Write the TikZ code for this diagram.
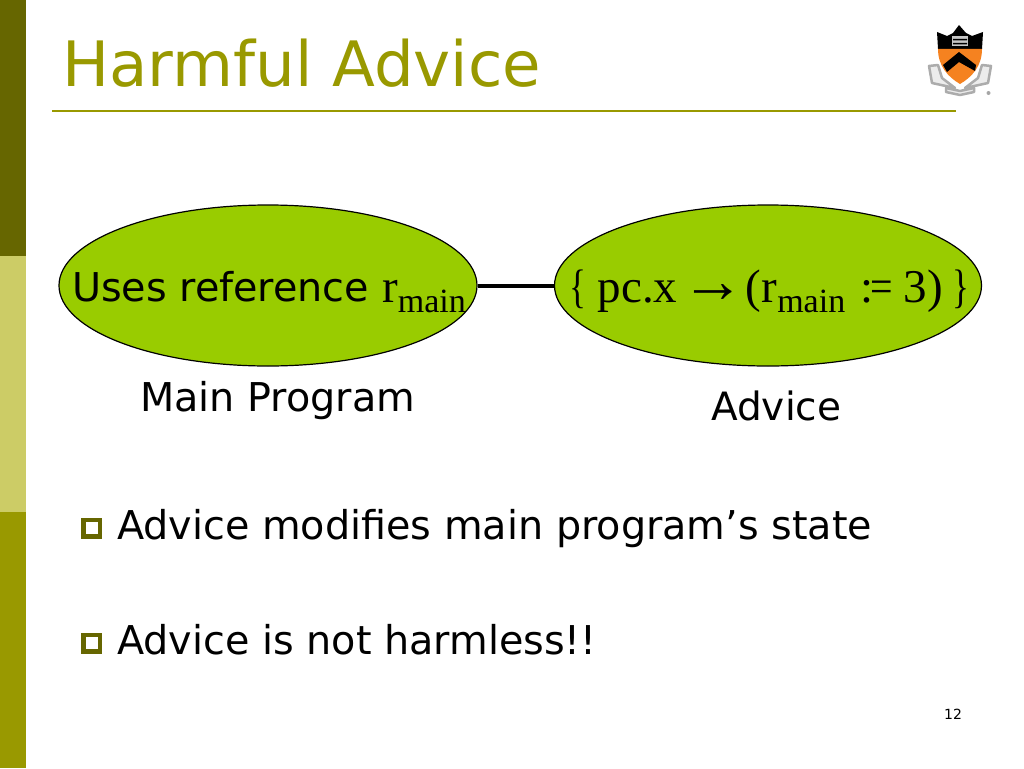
\documentclass[tikz,border=0pt]{standalone}
\usepackage{fontspec}
\setmainfont{DejaVu Sans}
\newfontfamily\serifface{Liberation Serif}
\usetikzlibrary{shapes.geometric}
\definecolor{oliveD}{HTML}{666600}
\definecolor{oliveM}{HTML}{999900}
\definecolor{oliveL}{HTML}{CCCC66}
\definecolor{limeF}{HTML}{99CC00}
\definecolor{shieldO}{HTML}{F58220}
\tikzset{
 blob/.style={ellipse,draw=black,line width=1.2pt,fill=limeF,inner sep=0pt},
 body/.style={inner sep=0pt,anchor=base west,text=black,font=\fontsize{39.7}{40}\selectfont},
 bullet/.style={draw=oliveD,line width=4.5pt,fill=white,minimum size=16.5pt,inner sep=0pt},
 ser/.style={inner sep=0pt,anchor=base west},
 scroll/.style={draw=gray!65,line width=2.5pt,fill=gray!15,line join=round}
}
\newcommand{\bigser}{\serifface\fontsize{47}{47}\selectfont}
\newcommand{\subser}[1]{\raisebox{-10pt}{\fontsize{34}{34}\selectfont #1}}
\begin{document}
\begin{tikzpicture}[x=1pt,y=-1pt]
\useasboundingbox (0,0) rectangle (1024,768);
\fill[white] (0,0) rectangle (1024,768);
\fill[oliveD] (0,0) rectangle (26,256);
\fill[oliveL] (0,256) rectangle (26,512);
\fill[oliveM] (0,512) rectangle (26,768);
\draw[oliveM,line width=2pt] (52,110.5) -- (956,110.5);
\node[inner sep=0pt,anchor=base west,text=oliveM,font=\fontsize{62.6}{63}\selectfont] (title) at (62,86) {Harmful Advice};
% logo
\draw[scroll] (929,66) -- (938,65) -- (942,78) -- (955,88) -- (932,83) -- cycle;
\draw[scroll] (991,66) -- (982,65) -- (978,78) -- (965,88) -- (988,83) -- cycle;
\draw[scroll] (946,88) -- (960,91) -- (974,88) -- (974,92) -- (960,95) -- (946,92) -- cycle;
\fill[black] (937,32) -- (947,36) -- (953,33) -- (959,25) -- (966,33) -- (972,36) -- (983,32) -- (982,49) -- (938,49) -- cycle;
\fill[shieldO] (938,49) -- (982,49) .. controls (982,66) and (972,77) .. (960,84) .. controls (948,77) and (938,66) .. (938,49) -- cycle;
\fill[black] (943,65) -- (959,52) -- (976,65) -- (975,71) -- (959,62) -- (947,72) -- cycle;
\fill[gray!45] (952,36) rectangle (968,46);
\fill[black] (953,39) rectangle (967,40.5) (953,43) rectangle (967,44.5);
\fill[gray!70] (988.5,93) circle (2);
% ovals
\node[blob,minimum width=418pt,minimum height=161pt] (main) at (268,285.5) {};
\node[blob,minimum width=427pt,minimum height=161pt] (adv) at (768,285.5) {};
\draw[line width=4pt] (main) -- (adv);
\node[body] (uses) at (72,301) {Uses reference};
\node[ser,font=\bigser] (r1) at (382,302) {r\subser{main}};
\node[ser,font=\bigser] (expr) at (569,302) {\scalebox{0.75}[1]{\{}\kern11.6pt pc.x\kern4pt\scalebox{1.35}{→}\kern1.2pt(r\subser{main}\kern15pt:\kern-3pt\scalebox{0.85}[1]{=}\kern11pt3)\kern9pt\scalebox{0.75}[1]{\}}};
\node[body] (mp) at (140,411) {Main Program};
\node[body,font=\fontsize{39}{40}\selectfont] (ad) at (711,420) {Advice};
\node[bullet] (b1) at (91.7,528) {};
\node[bullet] (b2) at (91.7,643) {};
\node[body] (t1) at (117,539.5) {Advice modifies main program’s state};
\node[body] (t2) at (117,654) {Advice is not harmless!!};
\node[inner sep=0pt,anchor=base west,font=\fontsize{14}{14}\selectfont] (num) at (944,719) {12};
\end{tikzpicture}
\end{document}
